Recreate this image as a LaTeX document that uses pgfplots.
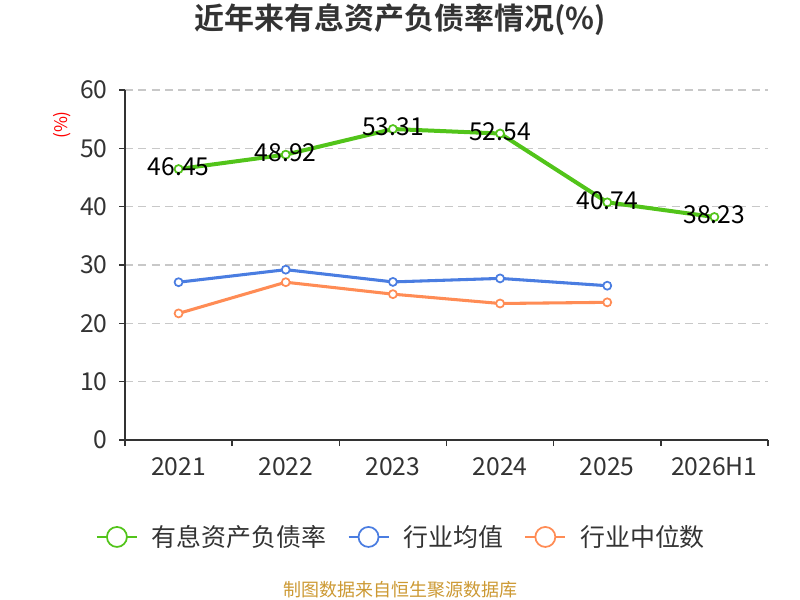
\documentclass[border=0pt]{standalone}
\usepackage{fontspec}
\setmainfont{Noto Sans CJK SC}[BoldFont={Noto Sans CJK SC Bold}]
\usepackage{pgfplots}
\pgfplotsset{compat=1.18}
\definecolor{cgreen}{RGB}{82,196,26}
\definecolor{cblue}{RGB}{74,125,225}
\definecolor{corange}{RGB}{255,140,85}
\definecolor{cgrid}{RGB}{200,200,200}
\definecolor{caxis}{RGB}{51,51,51}
\definecolor{cfoot}{RGB}{204,153,51}
\begin{document}
\begin{tikzpicture}
\path[use as bounding box] (0,0) rectangle (600pt,450pt);
\begin{axis}[
  at={(93.75pt,120pt)}, anchor=south west,
  scale only axis, width=482.25pt, height=262.5pt,
  xmin=-0.5, xmax=5.5, ymin=0, ymax=60,
  axis x line=bottom, axis y line=left,
  axis line style={-, line width=1.5pt, draw=caxis},
  xtick={0,1,2,3,4,5},
  xticklabels={2021,2022,2023,2024,2025,2026H1},
  minor xtick={-0.5,0.5,1.5,2.5,3.5,4.5,5.5},
  major x tick style={draw=none},
  minor tick length=4.5pt,
  minor x tick style={line width=1.2pt, draw=caxis},
  ytick={0,10,20,30,40,50,60},
  major y tick style={line width=1.2pt, draw=caxis},
  major tick length=4.5pt,
  tick align=outside,
  ymajorgrids,
  grid style={dashed, dash pattern=on 6pt off 4pt, line width=0.9pt, draw=cgrid},
  /pgf/number format/assume math mode=true,
  tick label style={font=\fontsize{18.5}{20}\selectfont, text=caxis},
  yticklabel style={xshift=-5pt},
  xticklabel style={yshift=-5.5pt, text height=13pt, text depth=2pt},
  ylabel={(\%)},
  ylabel style={at={(rel axis cs:0,0.9)}, anchor=center, yshift=47pt, text=red, font=\fontsize{13}{14}\selectfont},
  title={\textbf{近年来有息资产负债率情况(\%)}},
  title style={at={(rel axis cs:0.4277,1.177)}, anchor=center, yshift=0pt, text=caxis, font=\fontsize{22.5}{26}\selectfont},
  clip=false,
  legend columns=3,
  legend style={at={(rel axis cs:0.4305,-0.277)}, anchor=center, draw=none, fill=none,
    font=\fontsize{18.7}{20}\selectfont, text=caxis,
    /tikz/every odd column/.append style={column sep=8.5pt},
    /tikz/every even column/.append style={column sep=14pt}},
  legend cell align=left,
  legend image code/.code={
    \draw[#1, mark=none, line width=1.3pt] (0pt,0pt) -- (30pt,0pt);
    \draw[#1, mark=none, line width=1.3pt, fill=white] (15pt,0pt) circle (7.5pt);
  },
]
\addplot[color=cgreen, line width=3pt, mark=*, mark size=3pt,
  mark options={fill=white, draw=cgreen, line width=1.3pt},
  nodes near coords={\pgfmathprintnumber[fixed,precision=2,fixed zerofill]{\pgfplotspointmeta}},
  nodes near coords style={anchor=center, yshift=1.5pt, text=black, font=\fontsize{18.5}{20}\selectfont}]
  coordinates {(0,46.45) (1,48.92) (2,53.31) (3,52.54) (4,40.74) (5,38.23)};
\addlegendentry{有息资产负债率}
\addplot[color=cblue, line width=2.3pt, mark=*, mark size=3pt,
  mark options={fill=white, draw=cblue, line width=1.3pt}]
  coordinates {(0,27.05) (1,29.2) (2,27.1) (3,27.7) (4,26.45)};
\addlegendentry{行业均值}
\addplot[color=corange, line width=2.3pt, mark=*, mark size=3pt,
  mark options={fill=white, draw=corange, line width=1.3pt}]
  coordinates {(0,21.7) (1,27.05) (2,25.0) (3,23.4) (4,23.6)};
\addlegendentry{行业中位数}
\node[text=cfoot, font=\fontsize{13.5}{15}\selectfont] at (rel axis cs:0.4277,-0.4286) {制图数据来自恒生聚源数据库};
\end{axis}
\end{tikzpicture}
\end{document}
